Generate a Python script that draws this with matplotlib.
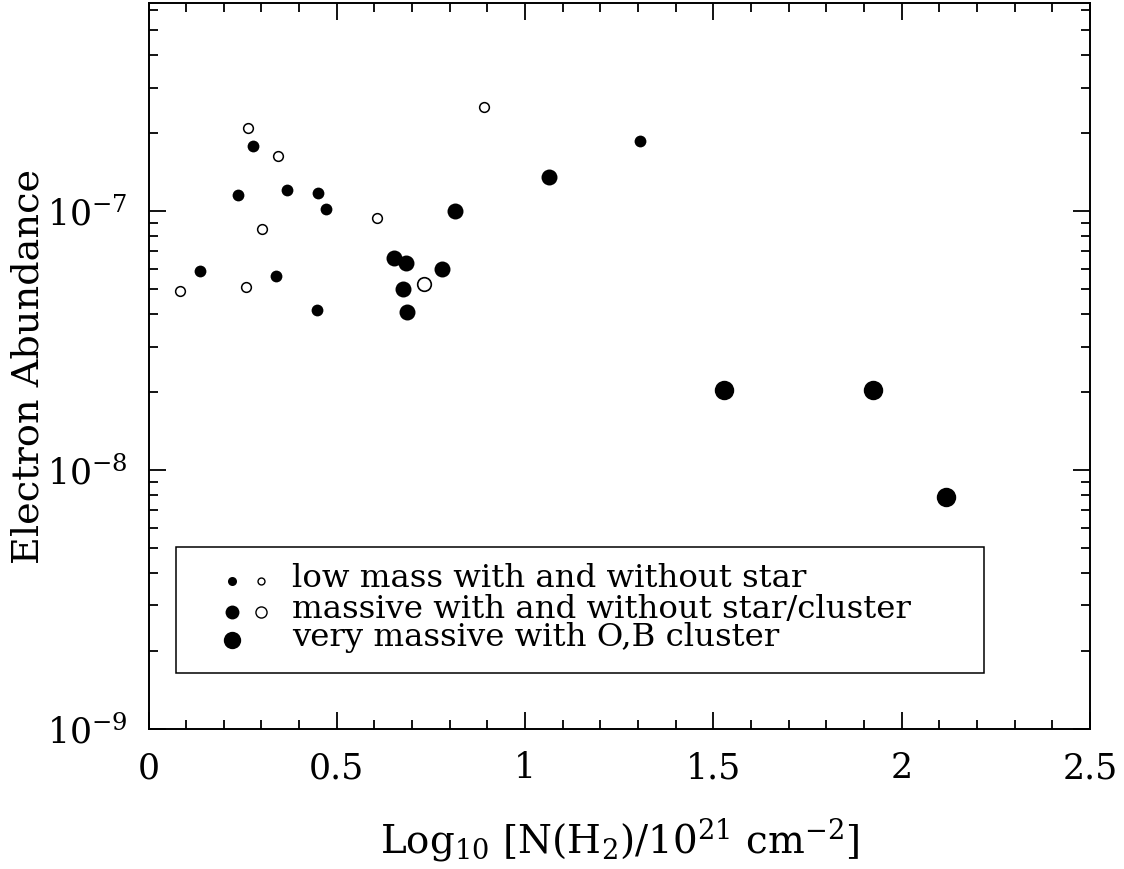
import numpy as np
import matplotlib
matplotlib.use("Agg")
import matplotlib.pyplot as plt
from matplotlib.patches import Rectangle
from matplotlib.ticker import LogLocator, NullFormatter, MultipleLocator

# ---- data: log10 N(H2)/1e21 and electron abundance ----
low_star_x = [0.2775, 0.2385, 0.368, 0.450, 0.471, 0.137, 0.3386, 0.448, 1.306]
low_star_y = [1.78e-7, 1.15e-7, 1.21e-7, 1.18e-7, 1.02e-7, 5.88e-8, 5.62e-8, 4.17e-8, 1.87e-7]

low_nostar_x = [0.265, 0.345, 0.302, 0.084, 0.258, 0.606, 0.892]
low_nostar_y = [2.09e-7, 1.63e-7, 8.5e-8, 4.9e-8, 5.1e-8, 9.4e-8, 2.52e-7]

massive_star_x = [0.652, 0.683, 0.676, 0.686, 0.780, 0.813, 1.063]
massive_star_y = [6.6e-8, 6.3e-8, 5.0e-8, 4.07e-8, 6.0e-8, 1.0e-7, 1.35e-7]

massive_nostar_x = [0.732]
massive_nostar_y = [5.25e-8]

ob_cluster_x = [1.529, 1.923, 2.118]
ob_cluster_y = [2.04e-8, 2.04e-8, 7.9e-9]

legend_labels = ["low mass with and without star",
                 "massive with and without star/cluster",
                 "very massive with O,B cluster"]

plt.rcParams['font.family'] = 'DejaVu Serif'
plt.rcParams['mathtext.fontset'] = 'dejavuserif'

fig = plt.figure(figsize=(11.24, 8.69), dpi=100)
ax = fig.add_axes([148.5 / 1124, 1 - 729 / 869, 941.5 / 1124, 725.7 / 869])

ax.plot(low_star_x, low_star_y, 'o', color='k', ms=8.5, mew=0)
ax.plot(low_nostar_x, low_nostar_y, 'o', mfc='white', mec='k', ms=7.0, mew=1.1)
ax.plot(massive_star_x, massive_star_y, 'o', color='k', ms=11.5, mew=0)
ax.plot(massive_nostar_x, massive_nostar_y, 'o', mfc='white', mec='k', ms=9.8, mew=1.2)
ax.plot(ob_cluster_x, ob_cluster_y, 'o', color='k', ms=14.0, mew=0)

ax.set_yscale('log')
ax.set_xlim(0, 2.5)
ax.set_ylim(1e-9, 6.35e-7)

ax.xaxis.set_major_locator(MultipleLocator(0.5))
ax.xaxis.set_minor_locator(MultipleLocator(0.1))
ax.set_xticks([0, 0.5, 1, 1.5, 2, 2.5])
ax.set_xticklabels(['0', '0.5', '1', '1.5', '2', '2.5'])
ax.yaxis.set_minor_locator(LogLocator(base=10, subs=np.arange(2, 10), numticks=20))
ax.yaxis.set_minor_formatter(NullFormatter())
ax.set_yticks([1e-9, 1e-8, 1e-7])
ax.set_yticklabels([r'$10^{-9}$', r'$10^{-8}$', r'$10^{-7}$'])

ax.tick_params(which='both', direction='in', top=True, right=True, width=1.3, colors='k')
ax.tick_params(which='major', length=12.5, labelsize=25)
ax.tick_params(axis='x', which='major', pad=16)
ax.tick_params(axis='y', which='major', pad=15)
ax.tick_params(which='minor', length=6.5)
for s in ax.spines.values():
    s.set_linewidth(1.4)

ax.set_xlabel(r'Log$_{10}$ [N(H$_2$)/10$^{21}$ cm$^{-2}$]', fontsize=28, labelpad=22)
ax.set_ylabel('Electron Abundance', fontsize=27.5, labelpad=0)

# key box
ax.add_patch(Rectangle((0.0292, 0.0772), 0.8582, 0.1736, transform=ax.transAxes,
                       fill=False, ec='k', lw=1.1, zorder=5))
key_x1, key_x2, key_tx = 0.0887, 0.1195, 0.1524
rows = [0.2044, 0.1616, 0.1226]
base = [0.1953, 0.1532, 0.1146]
ax.plot([key_x1], [rows[0]], 'o', color='k', ms=6.5, mew=0, transform=ax.transAxes, clip_on=False)
ax.plot([key_x2], [rows[0]], 'o', mfc='white', mec='k', ms=5.0, mew=1.0, transform=ax.transAxes, clip_on=False)
ax.plot([key_x1], [rows[1]], 'o', color='k', ms=10.0, mew=0, transform=ax.transAxes, clip_on=False)
ax.plot([key_x2], [rows[1]], 'o', mfc='white', mec='k', ms=8.0, mew=1.0, transform=ax.transAxes, clip_on=False)
ax.plot([key_x1], [rows[2]], 'o', color='k', ms=12.5, mew=0, transform=ax.transAxes, clip_on=False)
for lab, b in zip(legend_labels, base):
    ax.text(key_tx, b, lab, transform=ax.transAxes, fontsize=23.3, va='baseline', ha='left')

fig.savefig('out.png', dpi=100)
